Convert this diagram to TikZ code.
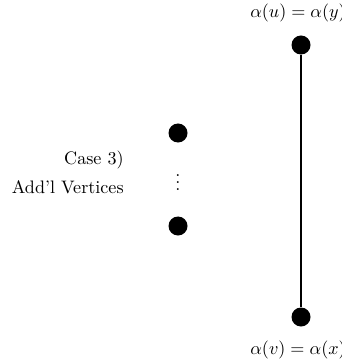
\documentclass[tikz,border=0pt]{standalone}
\begin{document}
\begin{tikzpicture}[x=0.5525pt,y=-0.5525pt,
  vtx/.style={circle,fill=black,inner sep=0pt,minimum size=10.5pt},
  lbl/.style={inner sep=0pt}]
\useasboundingbox (0,0) rectangle (342,364);
\node[vtx] (u) at (301,45) {};
\node[vtx] (v) at (301,317) {};
\draw[line width=1.1pt] (u) -- (v);
\node[vtx] (a) at (178,133) {};
\node[vtx] (b) at (178,226) {};
\node[lbl] (d) at (178,177) {$\vdots$};
\node[lbl,anchor=east] (c1) at (124,160) {Case 3)};
\node[lbl,anchor=east] (c2) at (124,187) {Add'l Vertices};
\node[lbl] (tl) at (298,13) {$\alpha(u)=\alpha(y)$};
\node[lbl] (bl) at (298,350) {$\alpha(v)=\alpha(x)$};
\end{tikzpicture}
\end{document}
